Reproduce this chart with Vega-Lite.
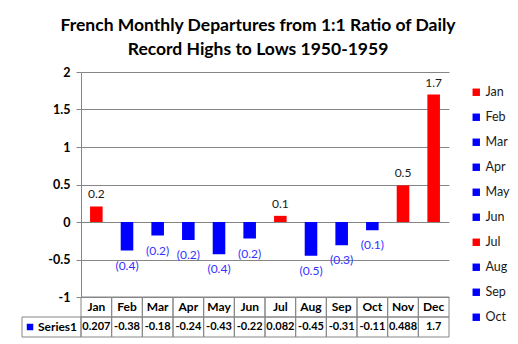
{
  "$schema": "https://vega.github.io/schema/vega-lite/v6.json",
  "width": 368,
  "height": 265,
  "autosize": "none",
  "padding": {"left": 81, "top": 72, "right": 69, "bottom": 7},
  "background": "white",
  "config": {"font": "Lato", "view": {"stroke": null}},
  "title": {
    "text": ["French Monthly Departures from 1:1 Ratio of Daily", "Record Highs to Lows 1950-1959"],
    "font": "Lato", "fontSize": 17.5, "fontWeight": "bold", "color": "black",
    "anchor": "middle", "offset": 8, "lineHeight": 24, "dx": -7
  },
  "data": {"values": [
    {"month": "Jan", "value": 0.207},
    {"month": "Feb", "value": -0.38},
    {"month": "Mar", "value": -0.18},
    {"month": "Apr", "value": -0.24},
    {"month": "May", "value": -0.43},
    {"month": "Jun", "value": -0.22},
    {"month": "Jul", "value": 0.082},
    {"month": "Aug", "value": -0.45},
    {"month": "Sep", "value": -0.31},
    {"month": "Oct", "value": -0.11},
    {"month": "Nov", "value": 0.488},
    {"month": "Dec", "value": 1.7}
  ]},
  "resolve": {"scale": {"x": "independent", "y": "independent"}},
  "layer": [
    {
      "encoding": {
        "x": {"field": "month", "type": "nominal", "sort": null, "axis": null,
              "scale": {"type": "band", "paddingInner": 0.59, "paddingOuter": 0.295}},
        "y": {"field": "value", "type": "quantitative",
              "scale": {"domain": [-1, 2], "range": [225, 0], "nice": false, "zero": false},
              "axis": {"values": [-1, -0.5, 0, 0.5, 1, 1.5, 2], "grid": true, "gridColor": "#868686",
                       "domainColor": "#868686", "tickColor": "#868686", "tickSize": 5,
                       "labelFontWeight": "bold", "labelFontSize": 12.5, "labelColor": "black",
                       "labelPadding": 6, "title": null, "labelExpr": "'' + datum.value"}}
      },
      "layer": [
        {
          "mark": {"type": "bar"},
          "encoding": {
            "color": {"field": "month", "type": "nominal", "sort": null,
                      "scale": {"domain": ["Jan","Feb","Mar","Apr","May","Jun","Jul","Aug","Sep","Oct","Nov","Dec"],
                                "range": ["#ff0000","#0000ff","#0000ff","#0000ff","#0000ff","#0000ff","#ff0000","#0000ff","#0000ff","#0000ff","#ff0000","#ff0000"]},
                      "legend": {"orient": "none", "legendX": 389, "legendY": 14, "padding": 0,
                                 "values": ["Jan","Feb","Mar","Apr","May","Jun","Jul","Aug","Sep","Oct"],
                                 "title": null, "symbolType": "square", "symbolSize": 55, "symbolStrokeWidth": 0,
                                 "labelFontSize": 12.5, "labelColor": "#1a1a1a", "labelOffset": 3, "rowPadding": 12}}
          }
        },
        {
          "transform": [{"filter": "datum.value >= 0"}],
          "mark": {"type": "text", "baseline": "alphabetic", "dy": -8, "fontSize": 12, "color": "#1a1a1a"},
          "encoding": {"text": {"field": "value", "type": "quantitative", "format": "(.1f"}}
        },
        {
          "transform": [{"filter": "datum.value < 0"}],
          "mark": {"type": "text", "baseline": "alphabetic", "dy": 19, "fontSize": 12, "color": "#3333ff"},
          "encoding": {"text": {"field": "value", "type": "quantitative", "format": "(.1f"}}
        }
      ]
    },
    {
      "encoding": {
        "x": {"field": "month", "type": "nominal", "sort": null, "axis": null,
              "scale": {"type": "band", "paddingInner": 0, "paddingOuter": 0}}
      },
      "layer": [
        {
          "mark": {"type": "rect", "fill": null, "fillOpacity": 0, "stroke": "#868686", "strokeWidth": 1},
          "encoding": {"y": {"datum": "H", "type": "nominal", "axis": null,
                             "scale": {"type": "band", "domain": ["H", "S"], "range": [225, 265], "paddingInner": 0, "paddingOuter": 0}}}
        },
        {
          "mark": {"type": "rect", "fill": null, "fillOpacity": 0, "stroke": "#868686", "strokeWidth": 1},
          "encoding": {"y": {"datum": "S", "type": "nominal", "axis": null}}
        },
        {
          "mark": {"type": "text", "fontSize": 12, "fontWeight": "bold", "color": "black", "baseline": "middle"},
          "encoding": {"y": {"datum": "H", "type": "nominal", "axis": null},
                       "text": {"field": "month", "type": "nominal"}}
        },
        {
          "mark": {"type": "text", "fontSize": 11, "fontWeight": "bold", "color": "black", "baseline": "middle"},
          "encoding": {"y": {"datum": "S", "type": "nominal", "axis": null},
                       "text": {"field": "value", "type": "nominal"}}
        }
      ]
    },
    {
      "data": {"values": [{"series": "Series1"}]},
      "encoding": {
        "y": {"datum": "S", "type": "nominal", "axis": null,
              "scale": {"type": "band", "domain": ["H", "S"], "range": [225, 265], "paddingInner": 0, "paddingOuter": 0}}
      },
      "layer": [
        {
          "mark": {"type": "rect", "fill": null, "fillOpacity": 0, "stroke": "#868686", "strokeWidth": 1},
          "encoding": {"x": {"field": "series", "type": "nominal", "axis": null,
                             "scale": {"type": "band", "range": [-59, 0], "paddingInner": 0, "paddingOuter": 0}}}
        },
        {
          "mark": {"type": "square", "size": 42, "color": "#0000ff", "opacity": 1, "filled": true},
          "encoding": {"x": {"field": "series", "type": "nominal", "axis": null, "bandPosition": 0.136}}
        },
        {
          "mark": {"type": "text", "fontSize": 12, "fontWeight": "bold", "color": "black", "align": "left", "baseline": "middle"},
          "encoding": {"x": {"field": "series", "type": "nominal", "axis": null, "bandPosition": 0.27},
                       "text": {"field": "series", "type": "nominal"}}
        }
      ]
    }
  ]
}
